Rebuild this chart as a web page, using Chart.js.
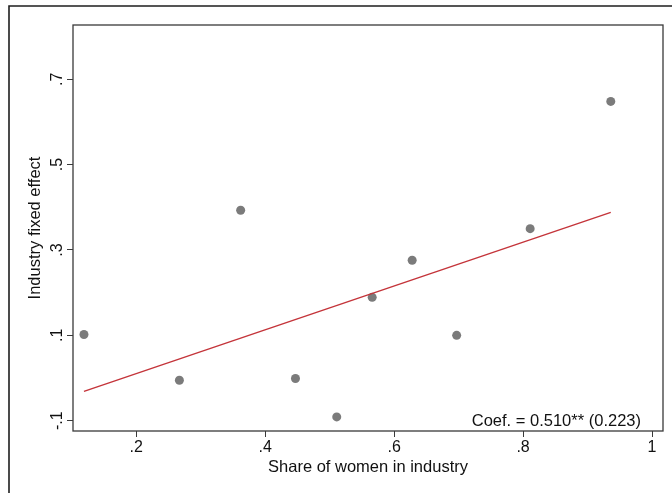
<!doctype html>
<html lang="en">
  <head>
    <script src="https://cdn.jsdelivr.net/npm/chart.js"></script>
    <style>
      body { margin: 0; background: #fff; }
    </style>
  </head>
  <body>
    <canvas id="myChart" width="672" height="493"></canvas>
    <script>
      // industry-level points
      const shareWomen = [0.119, 0.267, 0.362, 0.447, 0.511, 0.566, 0.628, 0.697, 0.811, 0.936];
      const fixedEffect = [0.102, -0.005, 0.393, -0.001, -0.091, 0.189, 0.276, 0.100, 0.350, 0.648];
      // fitted line endpoints
      const fitX = [0.119, 0.936];
      const fitY = [-0.031, 0.388];
      const xTicks = [0.2, 0.4, 0.6, 0.8, 1];
      const yTicks = [-0.1, 0.1, 0.3, 0.5, 0.7];
      const coefText = 'Coef. = 0.510** (0.223)';

      const font = 'Liberation Sans, Arial, Helvetica, sans-serif';

      function fmt(v) {
        var s = String(Math.round(v * 10) / 10);
        return s.replace(/^0\./, '.').replace(/^-0\./, '-.');
      }

      const framePlugin = {
        id: 'frame',
        afterDraw: function (chart) {
          const ctx = chart.ctx;
          const a = chart.chartArea;
          ctx.save();
          // plot box
          ctx.strokeStyle = '#3a3a3a';
          ctx.lineWidth = 1.3;
          ctx.strokeRect(a.left, a.top, a.right - a.left, a.bottom - a.top);
          // outer frame (left + top)
          ctx.strokeStyle = '#1e1e1e';
          ctx.lineWidth = 1.6;
          ctx.beginPath();
          ctx.moveTo(9, 493);
          ctx.lineTo(9, 6);
          ctx.lineTo(672, 6);
          ctx.stroke();
          // rotated y tick labels
          const y = chart.scales.y;
          ctx.fillStyle = '#111';
          ctx.font = '16px ' + font;
          ctx.textAlign = 'center';
          ctx.textBaseline = 'middle';
          yTicks.forEach(function (v) {
            ctx.save();
            ctx.translate(58, y.getPixelForValue(v));
            ctx.rotate(-Math.PI / 2);
            ctx.fillText(fmt(v), 0, 0);
            ctx.restore();
          });
          // coefficient note
          ctx.textAlign = 'right';
          ctx.textBaseline = 'middle';
          ctx.font = '16.5px ' + font;
          ctx.fillText(coefText, 641, 421);
          ctx.restore();
        }
      };

      new Chart(document.getElementById('myChart'), {
        type: 'scatter',
        data: {
          datasets: [
            {
              type: 'line',
              data: fitX.map(function (x, i) { return { x: x, y: fitY[i] }; }),
              borderColor: '#c4343a',
              borderWidth: 1.4,
              pointRadius: 0,
              fill: false
            },
            {
              data: shareWomen.map(function (x, i) { return { x: x, y: fixedEffect[i] }; }),
              backgroundColor: '#7b7b7b',
              borderColor: '#7b7b7b',
              pointRadius: 4.5,
              borderWidth: 0
            }
          ]
        },
        options: {
          responsive: false,
          animation: false,
          layout: {
            padding: { left: 0, top: 25, right: 9, bottom: 0 }
          },
          plugins: {
            legend: { display: false },
            tooltip: { enabled: false }
          },
          scales: {
            x: {
              type: 'linear',
              min: 0.102,
              max: 1.017,
              afterBuildTicks: function (scale) {
                scale.ticks = xTicks.map(function (v) { return { value: v }; });
              },
              afterFit: function (scale) { scale.height = 62; },
              grid: {
                drawOnChartArea: false,
                drawTicks: true,
                tickLength: 6,
                color: '#3a3a3a'
              },
              border: { display: false },
              ticks: {
                padding: 1,
                color: '#111',
                font: { family: font, size: 16 },
                maxRotation: 0,
                callback: function (v) { return fmt(v); }
              },
              title: {
                display: true,
                text: 'Share of women in industry',
                color: '#111',
                font: { family: font, size: 16.5 },
                padding: { top: 0, bottom: 16 }
              }
            },
            y: {
              type: 'linear',
              min: -0.124,
              max: 0.827,
              afterBuildTicks: function (scale) {
                scale.ticks = yTicks.map(function (v) { return { value: v }; });
              },
              afterFit: function (scale) { scale.width = 73; },
              grid: {
                drawOnChartArea: false,
                drawTicks: true,
                tickLength: 6,
                color: '#3a3a3a'
              },
              border: { display: false },
              ticks: {
                display: false
              },
              title: {
                display: true,
                text: 'Industry fixed effect',
                color: '#111',
                font: { family: font, size: 16.5 },
                padding: { top: 26, bottom: 0 }
              }
            }
          }
        },
        plugins: [framePlugin]
      });
    </script>
  </body>
</html>
